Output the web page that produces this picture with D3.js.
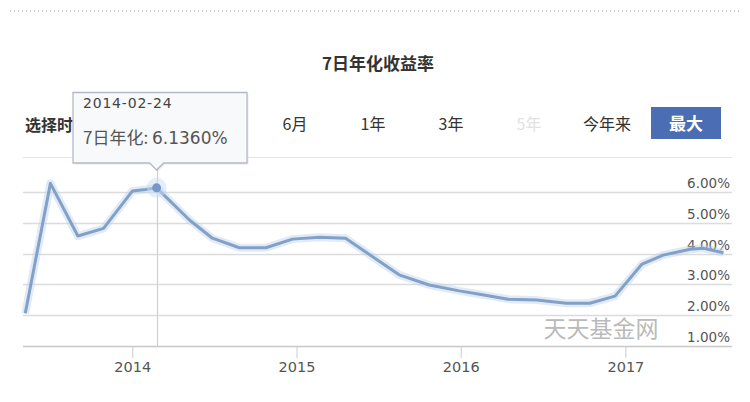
<!DOCTYPE html>
<html>
<head>
<meta charset="utf-8">
<script src="https://cdn.jsdelivr.net/npm/d3@7"></script>
<style>
body { margin: 0; background: #fff; }
svg { display: block; }
.cn { font-family: "Noto Sans CJK SC", sans-serif; }
.num { font-family: "DejaVu Sans", sans-serif; }
</style>
</head>
<body>
<script>
// data
var dates = ["2013-05-08", "2013-07-03", "2013-09-02", "2013-10-29", "2014-01-01", "2014-01-31",
    "2014-02-24", "2014-05-08", "2014-06-28", "2014-08-27", "2014-10-25", "2014-12-23",
    "2015-02-21", "2015-04-20", "2015-08-17", "2015-10-23", "2015-12-29", "2016-02-12",
    "2016-04-15", "2016-06-18", "2016-08-23", "2016-10-14", "2016-12-09", "2017-02-07",
    "2017-03-26", "2017-05-25", "2017-06-24", "2017-08-07"];
var rates = [2.06, 6.28, 4.57, 4.82, 6.03, 6.08,
    6.136, 5.09, 4.50, 4.19, 4.19, 4.47,
    4.53, 4.50, 3.31, 2.98, 2.79, 2.68,
    2.52, 2.49, 2.39, 2.39, 2.62, 3.66,
    3.95, 4.14, 4.17, 4.03];
var yTicks = [1, 2, 3, 4, 5, 6];
var xTicks = ["2014-01-01", "2015-01-01", "2016-01-01", "2017-01-01"];
var periods = ["1月", "3月", "6月", "1年", "3年", "5年", "今年来"];
var disabled = ["3月", "5年"];
var hoverDate = "2014-02-24";

var W = 750, H = 402;
var parse = d3.timeParse("%Y-%m-%d");
var data = dates.map(function (d, i) { return { date: parse(d), v: rates[i] }; });

var svg = d3.select("body").append("svg")
    .attr("width", W)
    .attr("height", H);

var x = d3.scaleTime()
    .domain([parse("2013-05-03"), parse("2017-08-26")])
    .range([23, 732]);
var y = d3.scaleLinear()
    .domain([1, 6])
    .range([346, 192]);

// tooltip box, the period buttons under it are hidden
var tipBox = { x0: 73, x1: 247, y0: 92.5, y1: 163 };

// dotted line on top
svg.append("line")
    .attr("x1", 10).attr("x2", 740)
    .attr("y1", 11).attr("y2", 11)
    .attr("stroke", "#9a9a9a")
    .attr("stroke-width", 1)
    .attr("stroke-dasharray", "1,3");

// title
svg.append("text")
    .attr("class", "cn")
    .attr("x", 378)
    .attr("y", 70)
    .attr("text-anchor", "middle")
    .style("font-size", "17px")
    .style("font-weight", "bold")
    .attr("fill", "#333")
    .text("7日年化收益率");

// range selector
svg.append("text")
    .attr("class", "cn")
    .attr("x", 25)
    .attr("y", 131)
    .style("font-size", "16px")
    .style("font-weight", "bold")
    .attr("fill", "#333")
    .text("选择时间");

var px = d3.scalePoint().domain(periods).range([139, 607]);
svg.selectAll(".period")
    .data(periods.filter(function (d) { return px(d) > tipBox.x1; }))
    .enter().append("text")
    .attr("class", "cn period")
    .attr("x", function (d) { return px(d); })
    .attr("y", 130)
    .attr("text-anchor", "middle")
    .style("font-size", "16px")
    .attr("fill", function (d) { return disabled.indexOf(d) >= 0 ? "#e2e2e2" : "#333"; })
    .text(function (d) { return d; });

svg.append("rect")
    .attr("x", 651).attr("y", 107)
    .attr("width", 70).attr("height", 32)
    .attr("fill", "#4a6db3");
svg.append("text")
    .attr("class", "cn")
    .attr("x", 686)
    .attr("y", 130)
    .attr("text-anchor", "middle")
    .style("font-size", "17px")
    .style("font-weight", "bold")
    .attr("fill", "#fff")
    .text("最大");

svg.append("line")
    .attr("x1", 23).attr("x2", 732)
    .attr("y1", 157.5).attr("y2", 157.5)
    .attr("stroke", "#e4e4e4");

// grid
svg.append("g")
    .selectAll("line")
    .data(yTicks)
    .enter().append("line")
    .attr("x1", 23).attr("x2", 732)
    .attr("y1", function (d) { return Math.round(y(d)) + 0.5; })
    .attr("y2", function (d) { return Math.round(y(d)) + 0.5; })
    .attr("stroke", function (d) { return d == 1 ? "#c8c8c8" : "#dcdcdc"; })
    .attr("stroke-width", 1.3);

// y labels
svg.append("g")
    .selectAll("text")
    .data(yTicks)
    .enter().append("text")
    .attr("class", "num")
    .attr("x", 730)
    .attr("y", function (d) { return y(d) - 4; })
    .attr("text-anchor", "end")
    .style("font-size", "13.5px")
    .attr("fill", "#555")
    .text(function (d) { return d3.format(".2f")(d) + "%"; });

// x axis
var xAxis = d3.axisBottom(x)
    .tickValues(xTicks.map(parse))
    .tickFormat(d3.timeFormat("%Y"))
    .tickSize(12)
    .tickPadding(4);
var gx = svg.append("g")
    .attr("transform", "translate(0,346)")
    .call(xAxis);
gx.select(".domain").remove();
gx.selectAll(".tick line").attr("stroke", "#ccc");
gx.selectAll(".tick text")
    .attr("class", "num")
    .style("font-size", "14.5px")
    .attr("fill", "#555");

// watermark
svg.append("text")
    .attr("class", "cn")
    .attr("x", 601)
    .attr("y", 337)
    .attr("text-anchor", "middle")
    .style("font-size", "23px")
    .attr("fill", "#bababa")
    .text("天天基金网");

// crosshair
var hv = data.filter(function (d) { return +d.date == +parse(hoverDate); })[0];
svg.append("line")
    .attr("x1", Math.round(x(hv.date)) + 0.5).attr("x2", Math.round(x(hv.date)) + 0.5)
    .attr("y1", 168).attr("y2", 346)
    .attr("stroke", "#cfcfcf")
    .attr("stroke-width", 1.2);

// line
var line = d3.line()
    .x(function (d) { return x(d.date); })
    .y(function (d) { return y(d.v); });

svg.append("path")
    .datum(data)
    .attr("fill", "none")
    .attr("stroke", "#bcd3ee")
    .attr("stroke-opacity", 0.45)
    .attr("stroke-width", 8)
    .attr("stroke-linejoin", "round")
    .attr("d", line);
svg.append("path")
    .datum(data)
    .attr("fill", "none")
    .attr("stroke", "#83a0c6")
    .attr("stroke-width", 3)
    .attr("stroke-linejoin", "round")
    .attr("d", line);

// hover marker
svg.append("circle")
    .attr("cx", x(hv.date)).attr("cy", y(hv.v))
    .attr("r", 10)
    .attr("fill", "#c9dcf3")
    .attr("opacity", 0.5);
svg.append("circle")
    .attr("cx", x(hv.date)).attr("cy", y(hv.v))
    .attr("r", 4.5)
    .attr("fill", "#7499c9");

// tooltip
var tx = x(hv.date);
var tipPath = "M" + tipBox.x0 + "," + tipBox.y0 + " H" + tipBox.x1 + " V" + tipBox.y1 +
    " H" + (tx + 7) + " L" + tx + ",170 L" + (tx - 7) + "," + tipBox.y1 + " H" + tipBox.x0 + " Z";
var tip = svg.append("g");
tip.append("path")
    .attr("d", tipPath)
    .attr("fill", "#000")
    .attr("opacity", 0.08)
    .attr("transform", "translate(1.5,1.5)");
tip.append("path")
    .attr("d", tipPath)
    .attr("fill", "#f8f9fb")
    .attr("stroke", "#b4bac4")
    .attr("stroke-width", 1.3);
tip.append("text")
    .attr("class", "num")
    .attr("x", 83)
    .attr("y", 108)
    .style("font-size", "14px")
    .style("letter-spacing", "0.8px")
    .attr("fill", "#444")
    .text(hoverDate);
tip.append("text")
    .attr("x", 83)
    .attr("y", 144)
    .style("font-size", "17px")
    .attr("fill", "#555")
    .call(function (t) {
        t.append("tspan").attr("class", "cn").text("7日年化: ");
        t.append("tspan").attr("class", "num").text(d3.format(".4f")(hv.v) + "%");
    });
</script>
</body>
</html>
